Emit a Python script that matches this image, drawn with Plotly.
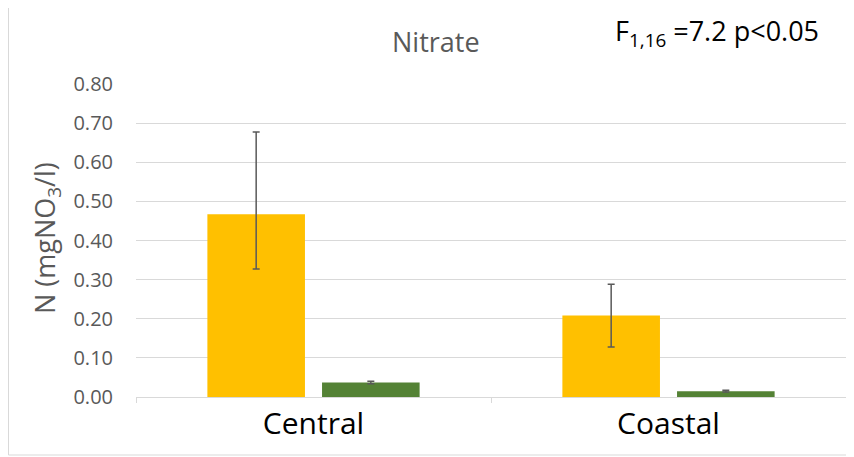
import plotly.graph_objects as go

categories = ["Central", "Coastal"]
series_names = ["Series A", "Series B"]
orange_values = [0.467, 0.208]
orange_err_plus = [0.21, 0.08]
orange_err_minus = [0.14, 0.08]
green_values = [0.037, 0.015]
green_err = [0.003, 0.002]
y_ticks = [0.0, 0.1, 0.2, 0.3, 0.4, 0.5, 0.6, 0.7, 0.8]
y_ticktext = ["0.00", "0.10", "0.20", "0.30", "0.40", "0.50", "0.60", "0.70", "0.80"]

# page body has an 8px default margin; figure is offset by (8, 8)
OFF = 8
W, H = 854 - OFF, 457 - OFF
L, R, T, B = 136 - OFF, 8, 84 - OFF, 60
PW, PH = W - L - R, H - T - B

def px(x):
    return (x - OFF - L) / PW

def py(y):
    return (H - (y - OFF) - B) / PH

fig = go.Figure()
fig.add_trace(go.Bar(
    x=categories, y=orange_values, name=series_names[0],
    marker=dict(color="#FFC000", line=dict(width=0)),
    error_y=dict(type="data", symmetric=False, array=orange_err_plus,
                 arrayminus=orange_err_minus, color="#595959", thickness=1.5, width=3.5),
))
fig.add_trace(go.Bar(
    x=categories, y=green_values, name=series_names[1],
    marker=dict(color="#548235", line=dict(width=0)),
    error_y=dict(type="data", array=green_err, color="#595959", thickness=1.5, width=3.5),
))

fig.update_layout(
    width=W, height=H,
    margin=dict(l=L, r=R, t=T, b=B, autoexpand=False),
    paper_bgcolor="white", plot_bgcolor="white",
    barmode="group", bargap=0.354, bargroupgap=0.149,
    showlegend=False,
    font=dict(family="Open Sans, sans-serif", color="#595959"),
)
fig.update_yaxes(
    range=[0, 0.8], tickvals=y_ticks, ticktext=y_ticktext, automargin=False,
    showgrid=True, gridcolor="#D9D9D9", gridwidth=1,
    zeroline=False, showline=False,
    tickfont=dict(size=20, color="#595959"), ticks="", ticklabelstandoff=22,
)
fig.update_xaxes(
    automargin=False,
    showline=True, linecolor="#D9D9D9", linewidth=1,
    ticks="outside", tickson="boundaries", ticklen=5, tickcolor="#D9D9D9",
    tickfont=dict(size=30, color="#000000"),
    showgrid=False,
)
fig.add_annotation(
    x=px(436), y=py(41), xref="paper", yref="paper", text="Nitrate", showarrow=False,
    xanchor="center", yanchor="middle",
    font=dict(size=27, color="#595959", family="Open Sans, sans-serif"),
)
fig.add_annotation(
    x=px(717), y=py(32), xref="paper", yref="paper",
    text="F<sub>1,16</sub> =7.2 p<0.05", showarrow=False,
    xanchor="center", yanchor="middle",
    font=dict(size=27, color="#000000", family="Open Sans, sans-serif"),
)
fig.add_annotation(
    x=px(47), y=py(238), xref="paper", yref="paper",
    text="N (mgNO<sub>3</sub>/l)", showarrow=False, textangle=-90,
    xanchor="center", yanchor="middle",
    font=dict(size=27, color="#595959", family="Open Sans, sans-serif"),
)
fig.add_shape(
    type="rect", xref="paper", yref="paper",
    x0=px(8.5), x1=px(851), y0=py(455), y1=py(3),
    line=dict(color="#D9D9D9", width=1), fillcolor="rgba(0,0,0,0)", layer="below",
)
fig.write_html("out.html")
